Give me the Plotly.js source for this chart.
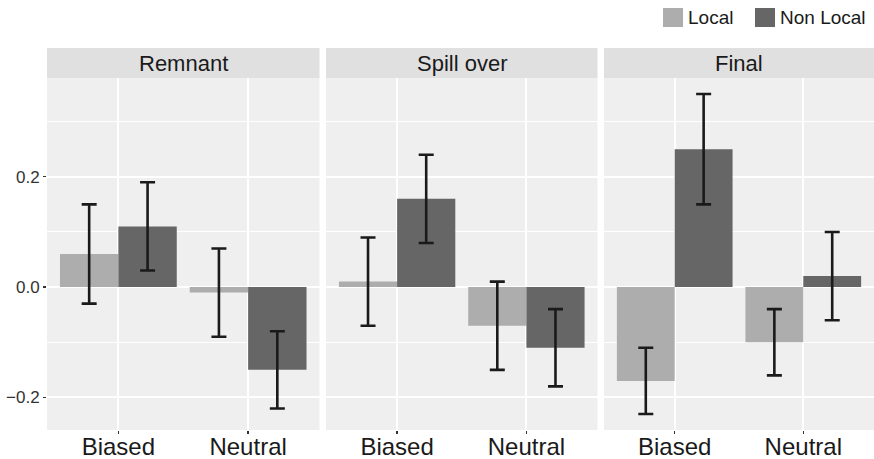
<!DOCTYPE html>
<html><head><meta charset="utf-8">
<script src="https://cdn.plot.ly/plotly-3.0.1.min.js"></script>
<style>html,body{margin:0;padding:0;background:#fff}</style>
</head><body><div id="chart" style="width:874px;height:459px"></div>
<script>
// ---- data ----
const panels = ["Remnant", "Spill over", "Final"];
const categories = ["Biased", "Neutral"];
const seriesNames = ["Local", "Non Local"];
// each row = one panel, values ordered as categories
const localMean    = [[0.06, -0.01], [0.01, -0.07], [-0.17, -0.10]];
const localLow     = [[-0.03, -0.09], [-0.07, -0.15], [-0.23, -0.16]];
const localHigh    = [[0.15, 0.07], [0.09, 0.01], [-0.11, -0.04]];
const nonLocalMean = [[0.11, -0.15], [0.16, -0.11], [0.25, 0.02]];
const nonLocalLow  = [[0.03, -0.22], [0.08, -0.18], [0.15, -0.06]];
const nonLocalHigh = [[0.19, -0.08], [0.24, -0.04], [0.35, 0.10]];
const yTickVals = [-0.2, 0.0, 0.2];
const yMinorVals = [-0.1, 0.1, 0.3];

// ---- style ----
const W = 874, H = 459;
const M = {l: 47, r: 0, t: 78, b: 29};
const PW = W - M.l - M.r, PH = H - M.t - M.b;
const panelPx = [[47, 319.5], [326, 597.5], [604, 874]];
const colors = ["#ADADAD", "#666666"];
const FONT = "Liberation Sans, Arial, Helvetica, sans-serif";
const px2x = p => (p - M.l) / PW;
const px2y = p => 1 + (M.t - p) / PH;

const meanSets = [localMean, nonLocalMean];
const lowSets = [localLow, nonLocalLow];
const highSets = [localHigh, nonLocalHigh];

const traces = [];
panels.forEach((pn, i) => {
  seriesNames.forEach((sn, s) => {
    const m = meanSets[s][i], lo = lowSets[s][i], hi = highSets[s][i];
    traces.push({
      type: "bar",
      name: sn,
      x: categories,
      y: m,
      xaxis: i === 0 ? "x" : "x" + (i + 1),
      yaxis: i === 0 ? "y" : "y" + (i + 1),
      marker: {color: colors[s], line: {width: 0}},
      showlegend: false,
      error_y: {
        type: "data", symmetric: false,
        array: m.map((v, k) => hi[k] - v),
        arrayminus: m.map((v, k) => v - lo[k]),
        color: "#1a1a1a", thickness: 2.6, width: 7.5
      },
      hoverinfo: "x+y+name"
    });
  });
});

const layout = {
  width: W, height: H,
  margin: M,
  paper_bgcolor: "#ffffff",
  plot_bgcolor: "#EFEFEF",
  barmode: "group", bargap: 0.1, bargroupgap: 0,
  font: {family: FONT, color: "#1a1a1a"},
  showlegend: false,
  shapes: [], annotations: []
};

panels.forEach((pn, i) => {
  const sfx = i === 0 ? "" : String(i + 1);
  layout["xaxis" + sfx] = {
    domain: [px2x(panelPx[i][0]), px2x(panelPx[i][1])],
    anchor: "y" + sfx,
    type: "category",
    range: [-0.55, 1.55],
    showgrid: true, gridcolor: "#ffffff", gridwidth: 2,
    zeroline: false, showline: false,
    ticks: "outside", ticklen: 3, tickwidth: 1.3, tickcolor: "#333333",
    ticklabelstandoff: -8,
    tickfont: {size: 24, color: "#1a1a1a", family: FONT},
    fixedrange: true
  };
  layout["yaxis" + sfx] = {
    domain: [0, 1],
    anchor: "x" + sfx,
    range: [-0.259, 0.379],
    tickmode: "array", tickvals: yTickVals, tickformat: ".1f",
    showgrid: true, gridcolor: "#ffffff", gridwidth: 2,
    minor: {tickmode: "array", tickvals: yMinorVals, showgrid: true, gridcolor: "#ffffff", gridwidth: 1, ticks: ""},
    zeroline: false, showline: false,
    ticks: i === 0 ? "outside" : "", ticklen: 3, tickwidth: 1.3, tickcolor: "#333333",
    showticklabels: i === 0,
    tickfont: {size: 17, color: "#333333", family: FONT},
    fixedrange: true
  };
  // strip
  layout.shapes.push({
    type: "rect", xref: "x" + sfx + " domain", yref: "paper",
    x0: 0, x1: 1, y0: px2y(78), y1: px2y(48),
    fillcolor: "#E0E0E0", line: {width: 0}
  });
  layout.annotations.push({
    text: pn, xref: "x" + sfx + " domain", yref: "paper",
    x: 0.5, y: px2y(64), xanchor: "center", yanchor: "middle",
    showarrow: false, font: {size: 22, color: "#1a1a1a", family: FONT}
  });
});

// legend (drawn manually to match square swatches)
const legSwatch = [[663, 683], [755, 775]];
seriesNames.forEach((sn, s) => {
  layout.shapes.push({
    type: "rect", xref: "paper", yref: "paper",
    x0: px2x(legSwatch[s][0]), x1: px2x(legSwatch[s][1]),
    y0: px2y(27), y1: px2y(8),
    fillcolor: colors[s], line: {width: 0}
  });
  layout.annotations.push({
    text: sn, xref: "paper", yref: "paper",
    x: px2x(legSwatch[s][1] + 3), y: px2y(17.5),
    xanchor: "left", yanchor: "middle", showarrow: false,
    font: {size: 19, color: "#1a1a1a", family: FONT}
  });
});

Plotly.newPlot("chart", traces, layout, {displayModeBar: false, staticPlot: true});
</script>
</body></html>
